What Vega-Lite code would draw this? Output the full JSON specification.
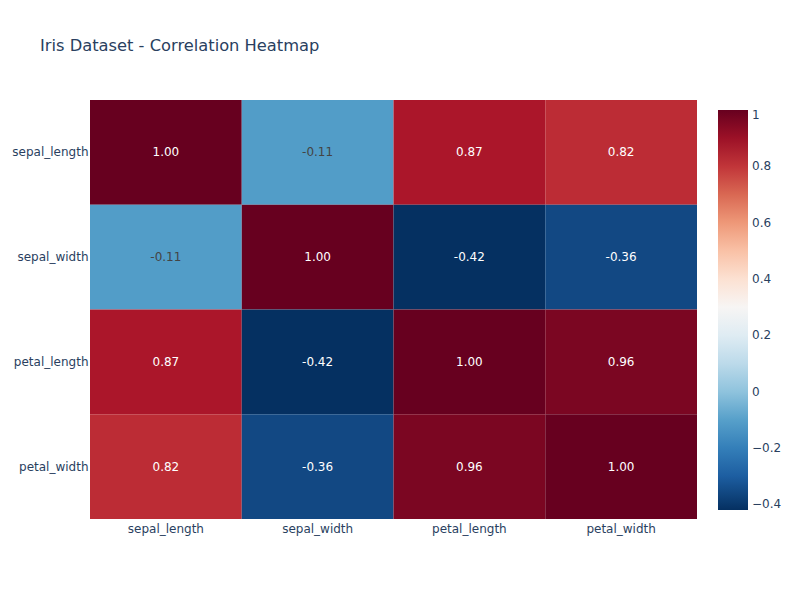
{
  "$schema": "https://vega.github.io/schema/vega-lite/v6.json",
  "autosize": {"type": "none"},
  "width": 607,
  "height": 419,
  "padding": {"left": 90, "top": 100, "right": 103, "bottom": 81},
  "background": "white",
  "title": {
    "text": "Iris Dataset - Correlation Heatmap",
    "anchor": "start",
    "frame": "group",
    "dx": -50,
    "offset": 46,
    "font": "DejaVu Sans",
    "fontSize": 16.3,
    "fontWeight": "normal",
    "color": "#2a3f5f"
  },
  "config": {
    "view": {"stroke": null},
    "locale": {"number": {"decimal": ".", "thousands": ",", "grouping": [3], "currency": ["$", ""], "minus": "-"}},
    "font": "DejaVu Sans"
  },
  "data": {
    "values": [
      {"x": "sepal_length", "y": "sepal_length", "value": 1.0},
      {"x": "sepal_width", "y": "sepal_length", "value": -0.1094},
      {"x": "petal_length", "y": "sepal_length", "value": 0.8718},
      {"x": "petal_width", "y": "sepal_length", "value": 0.818},
      {"x": "sepal_length", "y": "sepal_width", "value": -0.1094},
      {"x": "sepal_width", "y": "sepal_width", "value": 1.0},
      {"x": "petal_length", "y": "sepal_width", "value": -0.4205},
      {"x": "petal_width", "y": "sepal_width", "value": -0.3565},
      {"x": "sepal_length", "y": "petal_length", "value": 0.8718},
      {"x": "sepal_width", "y": "petal_length", "value": -0.4205},
      {"x": "petal_length", "y": "petal_length", "value": 1.0},
      {"x": "petal_width", "y": "petal_length", "value": 0.9628},
      {"x": "sepal_length", "y": "petal_width", "value": 0.818},
      {"x": "sepal_width", "y": "petal_width", "value": -0.3565},
      {"x": "petal_length", "y": "petal_width", "value": 0.9628},
      {"x": "petal_width", "y": "petal_width", "value": 1.0}
    ]
  },
  "encoding": {
    "x": {
      "field": "x", "type": "nominal",
      "sort": ["sepal_length", "sepal_width", "petal_length", "petal_width"],
      "scale": {"paddingInner": 0, "paddingOuter": 0},
      "axis": {"title": null, "ticks": false, "domain": false, "labelAngle": 0, "labelPadding": 4, "labelFontSize": 12, "labelColor": "#2a3f5f", "labelFont": "DejaVu Sans"}
    },
    "y": {
      "field": "y", "type": "nominal",
      "sort": ["sepal_length", "sepal_width", "petal_length", "petal_width"],
      "scale": {"paddingInner": 0, "paddingOuter": 0},
      "axis": {"title": null, "ticks": false, "domain": false, "labelPadding": 2, "labelFontSize": 12, "labelColor": "#2a3f5f", "labelFont": "DejaVu Sans"}
    }
  },
  "layer": [
    {
      "mark": {"type": "rect"},
      "encoding": {
        "color": {
          "field": "value", "type": "quantitative",
          "scale": {
            "type": "linear",
            "domain": [-0.4205, -0.27845, -0.1364, 0.00565, 0.1477, 0.28975, 0.4318, 0.57385, 0.7159, 0.85795, 1.0],
            "range": ["rgb(5,48,97)", "rgb(33,102,172)", "rgb(67,147,195)", "rgb(146,197,222)", "rgb(209,229,240)", "rgb(247,247,247)", "rgb(253,219,199)", "rgb(244,165,130)", "rgb(214,96,77)", "rgb(178,24,43)", "rgb(103,0,31)"],
            "interpolate": "rgb"
          },
          "legend": {
            "orient": "none",
            "legendX": 628,
            "legendY": 10,
            "direction": "vertical",
            "title": null,
            "gradientLength": 400,
            "gradientThickness": 30,
            "gradientStrokeWidth": 0,
            "values": [-0.4, -0.2, 0, 0.2, 0.4, 0.6, 0.8, 1],
            "format": "~g",
            "labelExpr": "replace(datum.label, '-', '\u2212')",
            "labelOverlap": false,
            "labelFontSize": 12,
            "labelColor": "#2a3f5f",
            "labelFont": "DejaVu Sans",
            "labelOffset": 4,
            "padding": 0
          }
        }
      }
    },
    {
      "mark": {"type": "text", "fontSize": 12, "font": "DejaVu Sans"},
      "encoding": {
        "text": {"field": "value", "type": "quantitative", "format": ".2f"},
        "color": {
          "condition": {"test": "datum.value > -0.2 && datum.value < 0.6", "value": "#444444"},
          "value": "white"
        }
      }
    }
  ]
}
